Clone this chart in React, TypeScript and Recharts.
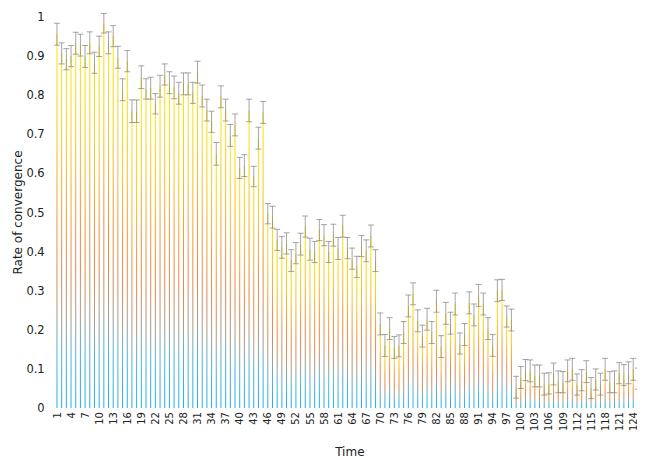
import React from "react";
import { BarChart, Bar, XAxis, YAxis, ErrorBar, Label } from "recharts";

const times: number[] = Array.from({ length: 126 }, (_, i) => i + 1);

const rates: number[] = [
  0.956, 0.907, 0.892, 0.9, 0.933, 0.928, 0.899, 0.934, 0.883, 0.925,
  0.984, 0.934, 0.951, 0.897, 0.814, 0.887, 0.759, 0.759, 0.846, 0.816,
  0.818, 0.778, 0.823, 0.853, 0.832, 0.82, 0.805, 0.829, 0.829, 0.806,
  0.859, 0.798, 0.762, 0.732, 0.65, 0.796, 0.762, 0.697, 0.724, 0.614,
  0.62, 0.761, 0.592, 0.69, 0.756, 0.497, 0.488, 0.43, 0.411, 0.421,
  0.377, 0.396, 0.419, 0.464, 0.406, 0.399, 0.455, 0.442, 0.399, 0.442,
  0.408, 0.465, 0.409, 0.382, 0.361, 0.414, 0.402, 0.44, 0.377, 0.215,
  0.16, 0.203, 0.155, 0.159, 0.193, 0.261, 0.292, 0.223, 0.184, 0.227,
  0.193, 0.273, 0.157, 0.242, 0.217, 0.266, 0.165, 0.188, 0.269, 0.238,
  0.288, 0.266, 0.203, 0.16, 0.3, 0.302, 0.234, 0.225, 0.053, 0.078,
  0.097, 0.095, 0.082, 0.082, 0.061, 0.063, 0.087, 0.067, 0.066, 0.095,
  0.099, 0.06, 0.071, 0.093, 0.051, 0.073, 0.061, 0.099, 0.066, 0.067,
  0.089, 0.084, 0.09, 0.099, 0.075, 0.056,
];

const errors: number[] = [
  0.028, 0.027, 0.027, 0.027, 0.028, 0.028, 0.028, 0.028, 0.027, 0.026,
  0.025, 0.028, 0.027, 0.028, 0.028, 0.027, 0.029, 0.029, 0.029, 0.026,
  0.028, 0.026, 0.028, 0.027, 0.028, 0.029, 0.028, 0.028, 0.028, 0.027,
  0.028, 0.028, 0.028, 0.027, 0.029, 0.028, 0.028, 0.028, 0.028, 0.027,
  0.028, 0.029, 0.026, 0.028, 0.028, 0.026, 0.028, 0.027, 0.028, 0.027,
  0.028, 0.027, 0.028, 0.027, 0.028, 0.027, 0.027, 0.027, 0.027, 0.028,
  0.028, 0.028, 0.027, 0.027, 0.027, 0.027, 0.028, 0.028, 0.028, 0.028,
  0.028, 0.028, 0.028, 0.028, 0.028, 0.028, 0.028, 0.028, 0.028, 0.028,
  0.028, 0.028, 0.028, 0.028, 0.028, 0.028, 0.027, 0.028, 0.028, 0.028,
  0.028, 0.028, 0.028, 0.028, 0.028, 0.027, 0.027, 0.028, 0.028, 0.028,
  0.027, 0.028, 0.028, 0.028, 0.028, 0.027, 0.028, 0.028, 0.027, 0.028,
  0.028, 0.027, 0.027, 0.028, 0.027, 0.027, 0.028, 0.028, 0.027, 0.028,
  0.027, 0.027, 0.028, 0.028, 0.027, 0.028,
];

const yTicks: number[] = [0, 0.1, 0.2, 0.3, 0.4, 0.5, 0.6, 0.7, 0.8, 0.9, 1];

const data = times.map((t, i) => ({ t, rate: rates[i], err: errors[i] }));

const XTick = (props: any) => {
  const { x, y, payload } = props;
  return (
    <text
      x={x}
      y={y}
      transform={`rotate(-90, ${x}, ${y})`}
      textAnchor="end"
      dominantBaseline="central"
      fontSize={10}
      fill="#222"
    >
      {payload.value}
    </text>
  );
};

export default function App() {
  return (
    <div style={{ fontFamily: "'DejaVu Sans', Verdana, sans-serif" }}>
      <BarChart
        width={637}
        height={452}
        data={data}
        margin={{ top: 9, right: 0, bottom: 0, left: 0 }}
        barCategoryGap="38%"
      >
        <defs>
          <linearGradient id="barGrad" x1="0" y1="0" x2="0" y2="1">
            <stop offset="0%" stopColor="#ffe800" />
            <stop offset="28%" stopColor="#fcc21c" />
            <stop offset="50%" stopColor="#f59038" />
            <stop offset="62%" stopColor="#e2884e" />
            <stop offset="74%" stopColor="#a89c84" />
            <stop offset="85%" stopColor="#4cb2dc" />
            <stop offset="100%" stopColor="#1eaee8" />
          </linearGradient>
        </defs>
        <XAxis
          dataKey="t"
          type="category"
          interval={2}
          tick={<XTick />}
          axisLine={false}
          tickLine={false}
          tickSize={2}
          tickMargin={2}
          height={52}
        >
          <Label
            value="Time"
            position="insideBottom"
            offset={4}
            style={{ fontSize: 12, fill: "#222" }}
          />
        </XAxis>
        <YAxis
          width={46.7}
          domain={[0, 1]}
          ticks={yTicks}
          allowDataOverflow
          axisLine={false}
          tickLine={false}
          tickSize={6}
          tickMargin={4}
          tick={{ fontSize: 11.5, fill: "#222" }}
        >
          <Label
            value="Rate of convergence"
            angle={-90}
            position="insideLeft"
            offset={10}
            textAnchor="middle"
            style={{ fontSize: 12, fill: "#222", textAnchor: "middle" }}
          />
        </YAxis>
        <Bar dataKey="rate" fill="url(#barGrad)" isAnimationActive={false}>
          <ErrorBar
            dataKey="err"
            width={3}
            stroke="#808080"
            strokeWidth={1}
            strokeOpacity={0.7}
          />
        </Bar>
      </BarChart>
    </div>
  );
}
